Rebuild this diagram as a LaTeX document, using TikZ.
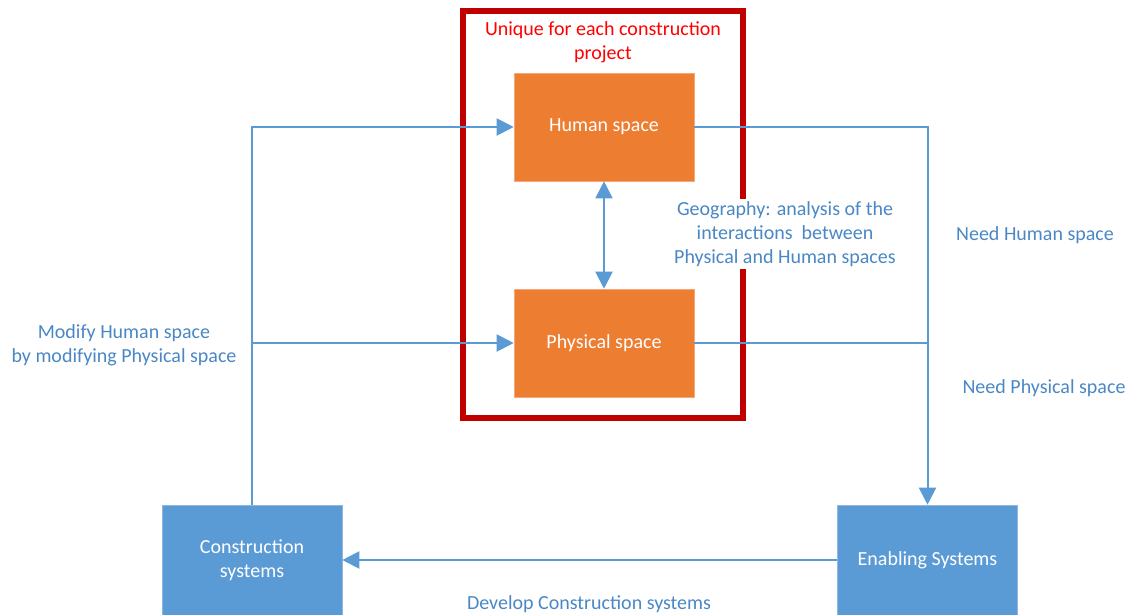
\documentclass[tikz,border=0pt]{standalone}
\usepackage{fontspec}
\setmainfont{Carlito}
\usetikzlibrary{arrows.meta}
\definecolor{orng}{HTML}{ED7D31}
\definecolor{orngb}{HTML}{F4A77A}
\definecolor{bluebox}{HTML}{5B9BD5}
\definecolor{blueb}{HTML}{8DB8E3}
\definecolor{bluetxt}{HTML}{4A87C5}
\definecolor{frame}{HTML}{C00000}
\tikzset{
  every node/.style={font=\fontsize{20}{24}\selectfont},
  spacebox/.style={fill=orng, draw=orngb, line width=0.6pt, text=white, minimum width=180pt, minimum height=108pt, inner sep=0pt},
  sysbox/.style={fill=bluebox, draw=blueb, line width=0.6pt, text=white, minimum width=180pt, minimum height=110pt, inner sep=0pt, align=center},
  conn/.style={draw=bluebox, line width=2pt},
  arr/.style={conn, -{Triangle[length=17pt,width=17pt]}},
  darr/.style={conn, {Triangle[length=17pt,width=17pt]}-{Triangle[length=17pt,width=17pt]}},
  lbl/.style={text=bluetxt, align=center, inner sep=1pt},
}
\begin{document}
\begin{tikzpicture}[x=1pt,y=-1pt]
\useasboundingbox (0,0) rectangle (1132,614);
% red frame
\draw[frame, line width=6pt] (463,11) rectangle (743,418);
\node[text=red, align=center] (uq) at (603,42) {Unique for each construction\\project};
% boxes
\node[spacebox] (hs) at (604,127) {Human space};
\node[spacebox] (ps) at (604,343) {Physical space};
\node[sysbox] (cs) at (252,560) {Construction\\systems};
\node[sysbox] (es) at (927.5,560) {Enabling Systems};
% geography label
\node[lbl, fill=white, inner sep=2pt] (geo) at (785,234) {Geography: analysis of the\\interactions\ \ between\\Physical and Human spaces};
% connectors
\draw[darr] (hs.south) -- (ps.north);
\draw[arr] (hs.east) -| (es.north);
\coordinate (jr) at (ps.east -| es.north);
\draw[conn] (ps.east) -- (jr);
\draw[arr] (cs.north) |- (hs.west);
\coordinate (jl) at (cs.north |- ps.west);
\draw[arr] (jl) -- (ps.west);
\draw[arr] (es.west) -- (cs.east);
% labels
\node[lbl] (l1) at (124,345) {Modify Human space\\by modifying Physical space};
\node[lbl] (l2) at (1035,235) {Need Human space};
\node[lbl] (l3) at (1044,388) {Need Physical space};
\node[lbl] (l4) at (589,604) {Develop Construction systems};
\end{tikzpicture}
\end{document}
